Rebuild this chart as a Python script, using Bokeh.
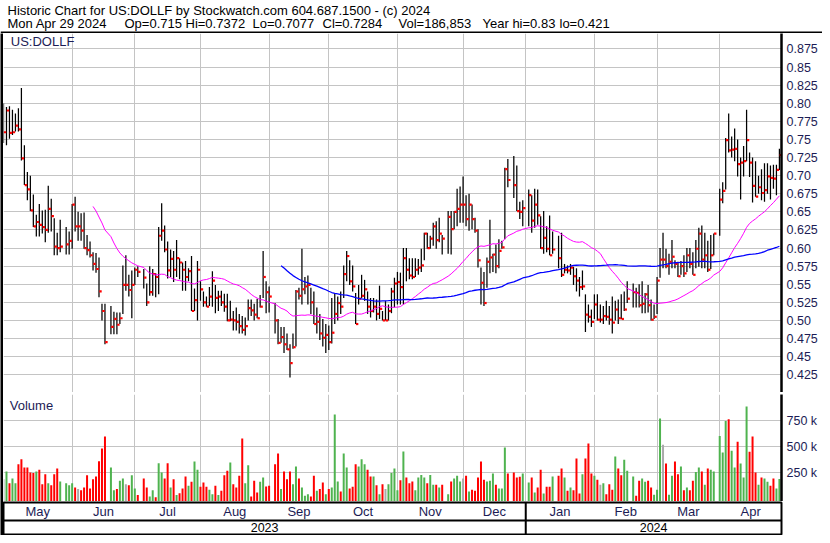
import numpy as np
import pandas as pd
from bokeh.plotting import figure
from bokeh.models import ColumnDataSource, Range1d, LinearAxis, FixedTicker, Grid, Label
from bokeh.transform import dodge
from bokeh.layouts import column, row
from bokeh.embed import file_html
from bokeh.resources import INLINE

# ---------------- data ----------------
symbol = "US:DOLLF"
first_day, last_day = "2023-05-01", "2024-04-29"   # one slot per weekday, None = no trade
N = None
high = [
    0.800, 0.795, 0.796, 0.791, 0.786, 0.793, 0.821, 0.742, 0.705, 0.700,
    0.674, 0.646, 0.661, 0.652, 0.653, 0.686, 0.668, 0.641, 0.621, 0.639,
    N, 0.629, 0.623, 0.661, 0.671, 0.650, 0.648, 0.649, 0.618, 0.609,
    0.594, 0.593, 0.587, 0.523, 0.523, N, 0.520, 0.512, 0.511, 0.511,
    0.576, 0.590, 0.563, 0.569, 0.573, 0.575, N, 0.571, 0.551, 0.575,
    0.571, 0.565, 0.629, 0.662, 0.631, 0.609, 0.598, 0.596, 0.611, 0.586,
    0.580, 0.582, 0.572, 0.589, 0.544, 0.582, 0.554, 0.540, 0.533, 0.546,
    0.568, 0.549, 0.541, 0.541, 0.537, 0.537, 0.527, 0.513, 0.518, 0.509,
    0.506, 0.504, 0.529, 0.529, 0.523, 0.530, 0.535, 0.596, 0.554, 0.547,
    N, 0.524, 0.502, 0.491, 0.491, 0.482, 0.467, 0.482, 0.542, 0.545,
    0.599, 0.560, 0.562, 0.545, 0.540, 0.518, 0.509, 0.502, 0.495, 0.493,
    0.531, 0.538, 0.533, 0.540, 0.576, 0.596, 0.583, 0.576, 0.538, 0.549,
    0.563, 0.556, 0.540, 0.531, 0.531, 0.529, 0.548, 0.513, 0.527, 0.522,
    0.545, 0.559, 0.567, 0.566, 0.600, 0.600, 0.586, 0.586, 0.586, 0.585,
    0.599, 0.621, 0.621, 0.617, 0.635, 0.637, 0.642, 0.618, N, 0.651,
    0.651, 0.651, 0.682, 0.685, 0.699, 0.673, 0.675, 0.660, 0.642, 0.626,
    0.573, 0.567, 0.587, 0.639, 0.592, 0.605, 0.612, 0.610, 0.711, 0.723,
    N, 0.727, 0.714, 0.664, 0.666, N, 0.681, 0.673, 0.682, 0.681,
    0.644, 0.651, 0.630, 0.645, 0.623, N, 0.617, 0.621, 0.578, 0.576,
    0.578, 0.574, 0.572, 0.560, 0.569, 0.536, 0.522, 0.515, 0.536, 0.536,
    0.522, 0.520, 0.527, 0.520, 0.533, 0.527, 0.529, 0.536, 0.540, 0.554,
    N, 0.551, 0.545, 0.550, 0.554, 0.538, 0.549, 0.529, 0.522, 0.560,
    0.600, 0.621, 0.599, 0.592, 0.611, 0.583, 0.581, 0.582, 0.590, 0.600,
    0.600, 0.594, 0.611, 0.628, 0.631, 0.621, 0.610, 0.618, 0.620, N,
    0.682, 0.691, 0.752, 0.786, 0.754, 0.765, 0.750, 0.725, 0.741, 0.791,
    0.732, 0.725, 0.720, 0.700, 0.709, 0.717, 0.717, 0.714, 0.715, 0.715, 0.7372,
]
low = [
    0.745, 0.742, 0.751, 0.756, 0.761, 0.761, 0.721, 0.687, 0.666, 0.651,
    0.629, 0.616, 0.616, 0.620, 0.608, 0.621, 0.623, 0.590, 0.590, 0.594,
    N, 0.591, 0.591, 0.599, 0.623, 0.610, 0.610, 0.599, 0.590, 0.587,
    0.569, 0.566, 0.532, 0.500, 0.467, N, 0.481, 0.481, 0.481, 0.495,
    0.509, 0.541, 0.533, 0.503, 0.549, 0.560, N, 0.544, 0.520, 0.534,
    0.534, 0.532, 0.536, 0.610, 0.594, 0.558, 0.560, 0.553, 0.560, 0.557,
    0.541, 0.541, 0.554, 0.513, 0.513, 0.500, 0.527, 0.519, 0.519, 0.520,
    0.519, 0.510, 0.513, 0.520, 0.512, 0.499, 0.499, 0.486, 0.486, 0.482,
    0.482, 0.479, 0.500, 0.506, 0.500, 0.503, 0.518, 0.531, 0.510, 0.511,
    N, 0.482, 0.467, 0.469, 0.455, 0.459, 0.421, 0.461, 0.464, 0.529,
    0.522, 0.536, 0.522, 0.509, 0.495, 0.482, 0.473, 0.464, 0.455, 0.459,
    0.468, 0.495, 0.500, 0.509, 0.531, 0.554, 0.549, 0.540, 0.495, 0.522,
    0.531, 0.527, 0.509, 0.504, 0.511, 0.500, 0.502, 0.500, 0.500, 0.500,
    0.510, 0.518, 0.522, 0.522, 0.522, 0.554, 0.557, 0.557, 0.560, 0.563,
    0.567, 0.583, 0.599, 0.599, 0.603, 0.599, 0.608, 0.591, N, 0.592,
    0.591, 0.626, 0.630, 0.635, 0.635, 0.630, 0.624, 0.626, 0.621, 0.573,
    0.522, 0.520, 0.545, 0.565, 0.567, 0.565, 0.572, 0.599, 0.612, 0.684,
    N, 0.669, 0.651, 0.640, 0.630, N, 0.630, 0.621, 0.628, 0.632,
    0.599, 0.592, 0.594, 0.590, 0.592, N, 0.572, 0.560, 0.565, 0.565,
    0.563, 0.549, 0.540, 0.533, 0.542, 0.484, 0.497, 0.491, 0.502, 0.500,
    0.497, 0.495, 0.500, 0.494, 0.482, 0.500, 0.495, 0.502, 0.513, 0.524,
    N, 0.518, 0.518, 0.518, 0.510, 0.510, 0.511, 0.500, 0.502, 0.509,
    0.559, 0.572, 0.572, 0.563, 0.572, 0.572, 0.560, 0.563, 0.560, 0.567,
    0.572, 0.563, 0.572, 0.574, 0.572, 0.572, 0.567, 0.571, 0.590, N,
    0.617, 0.662, 0.681, 0.732, 0.725, 0.720, 0.699, 0.667, 0.699, 0.720,
    0.698, 0.663, 0.671, 0.675, 0.666, 0.664, 0.675, 0.667, 0.682, 0.673, 0.7077,
]
close = [
    0.760, 0.790, 0.759, 0.760, 0.769, 0.764, 0.724, 0.687, 0.681, 0.652,
    0.630, 0.636, 0.632, 0.629, 0.625, 0.654, 0.644, 0.602, 0.600, 0.602,
    N, 0.605, 0.610, 0.660, 0.630, 0.630, 0.624, 0.600, 0.597, 0.590,
    0.578, 0.571, 0.540, 0.513, 0.470, N, 0.491, 0.502, 0.494, 0.503,
    0.549, 0.549, 0.542, 0.549, 0.570, 0.567, N, 0.559, 0.525, 0.539,
    0.564, 0.560, 0.617, 0.624, 0.598, 0.569, 0.585, 0.570, 0.586, 0.580,
    0.570, 0.560, 0.568, 0.513, 0.528, 0.570, 0.543, 0.525, 0.519, 0.533,
    0.555, 0.531, 0.533, 0.525, 0.519, 0.500, 0.501, 0.500, 0.498, 0.492,
    0.487, 0.492, 0.517, 0.514, 0.508, 0.503, 0.519, 0.560, 0.539, 0.533,
    N, 0.500, 0.469, 0.477, 0.467, 0.460, 0.441, 0.463, 0.540, 0.534,
    0.543, 0.547, 0.549, 0.525, 0.495, 0.498, 0.482, 0.476, 0.480, 0.470,
    0.483, 0.509, 0.524, 0.519, 0.564, 0.589, 0.554, 0.547, 0.495, 0.530,
    0.534, 0.543, 0.519, 0.513, 0.519, 0.509, 0.516, 0.500, 0.500, 0.513,
    0.540, 0.551, 0.553, 0.546, 0.586, 0.570, 0.562, 0.560, 0.570, 0.573,
    0.576, 0.620, 0.600, 0.613, 0.630, 0.611, 0.620, 0.613, N, 0.643,
    0.626, 0.650, 0.654, 0.660, 0.660, 0.640, 0.660, 0.640, 0.624, 0.583,
    0.552, 0.524, 0.581, 0.587, 0.591, 0.575, 0.596, 0.601, 0.709, 0.694,
    N, 0.687, 0.651, 0.650, 0.655, N, 0.673, 0.638, 0.660, 0.645,
    0.600, 0.614, 0.599, 0.590, 0.598, N, 0.586, 0.563, 0.570, 0.569,
    0.573, 0.561, 0.555, 0.546, 0.547, 0.508, 0.505, 0.498, 0.522, 0.501,
    0.501, 0.506, 0.505, 0.501, 0.497, 0.515, 0.503, 0.502, 0.515, 0.530,
    N, 0.539, 0.538, 0.521, 0.523, 0.536, 0.521, 0.501, 0.505, 0.555,
    0.584, 0.584, 0.575, 0.581, 0.588, 0.578, 0.561, 0.575, 0.565, 0.590,
    0.578, 0.563, 0.599, 0.620, 0.584, 0.590, 0.570, 0.590, 0.620, N,
    0.667, 0.679, 0.749, 0.735, 0.736, 0.737, 0.716, 0.718, 0.720, 0.749,
    0.718, 0.686, 0.671, 0.684, 0.676, 0.680, 0.699, 0.697, 0.696, 0.708, 0.7284,
]
volume = [
    185000, 260000, 147000, 192000, 147000, 331000, 379000, 298000, 298000, 250000,
    244000, 260000, 276000, 137000, 234000, 147000, 127000, 234000, 289000, 163000,
    N, 147000, 127000, 147000, 105000, 89000, 79000, 105000, 224000, 95000,
    185000, 211000, 360000, 482000, 598000, N, 298000, 79000, 89000, 169000,
    192000, 137000, 127000, 224000, 95000, 31000, N, 192000, 105000, 18000,
    79000, 10000, 340000, 250000, 192000, 340000, 105000, 185000, 31000, 50000,
    95000, 211000, 121000, 160000, 356000, 276000, 111000, 153000, 111000, 82000,
    40000, 121000, 31000, 73000, 224000, 266000, 347000, 137000, 105000, 218000,
    579000, 147000, 321000, 18000, 169000, 56000, 160000, 202000, 115000, 121000,
    N, 331000, 434000, 89000, 260000, 185000, 260000, 137000, 308000, 192000,
    105000, 24000, 40000, 18000, 218000, 73000, 89000, 153000, 40000, 89000,
    105000, 811000, 163000, 66000, 434000, 298000, 95000, 111000, 331000, 308000,
    379000, 331000, 276000, 211000, 211000, 127000, 40000, 137000, 89000, 137000,
    244000, 289000, 79000, 176000, 453000, 202000, 147000, 163000, 79000, 202000,
    227000, 202000, 147000, 227000, 131000, 131000, 105000, 131000, N, 40000,
    163000, 192000, 218000, 163000, 192000, 218000, 66000, 82000, 73000, 202000,
    356000, 179000, 163000, 169000, 240000, 131000, 95000, 95000, 492000, 240000,
    N, 250000, 202000, 208000, 240000, N, 153000, 202000, 56000, 105000,
    276000, 47000, 111000, 111000, 211000, N, 218000, 289000, 202000, 73000,
    105000, 79000, 385000, 47000, 234000, 385000, 531000, 240000, 218000, 179000,
    131000, 147000, 40000, 137000, 82000, 405000, 289000, 224000, 373000, 266000,
    N, 211000, 24000, 169000, 192000, 160000, 169000, 105000, 34000, 82000,
    773000, 518000, 337000, 34000, 218000, 356000, 234000, 308000, 79000, 105000,
    79000, 170000, 256000, 298000, 260000, 131000, 289000, 276000, 260000, N,
    605000, 444000, 750000, 766000, 460000, 298000, 547000, 337000, 202000, 889000,
    450000, 598000, 250000, 131000, 202000, 192000, 160000, 121000, 192000, 95000, 186853,
]
last_open = 0.715
year_hi, year_lo = 0.83, 0.421
ma_windows = [30, 90]

price_ticks = [0.425, 0.45, 0.475, 0.5, 0.525, 0.55, 0.575, 0.6, 0.625, 0.65,
               0.675, 0.7, 0.725, 0.75, 0.775, 0.8, 0.825, 0.85, 0.875]
price_tick_labels = ["0.425", "0.45", "0.475", "0.50", "0.525", "0.55", "0.575", "0.60", "0.625", "0.65",
                     "0.675", "0.70", "0.725", "0.75", "0.775", "0.80", "0.825", "0.85", "0.875"]
vol_ticks = [250000, 500000, 750000]
vol_tick_labels = ["250 k", "500 k", "750 k"]

# ---------------- styling ----------------
FONT = "Liberation Sans"
NAVY = "#1c1c55"
GRID = "#c4c4c4"
GREEN, RED, GREY = "#4fb34f", "#ff0000", "#aaaaaa"
W = 822          # page content width
FW = 819         # width right of left border strip
AXW = 41         # right axis column
PRICE_RANGE = (0.4004, 0.8964)
VOL_RANGE = (-31000, 1006000)

days = pd.bdate_range(first_day, last_day)
df = pd.DataFrame({"x": np.arange(len(days)), "date": days,
                   "high": pd.to_numeric(pd.Series(high), errors="coerce"),
                   "low": pd.to_numeric(pd.Series(low), errors="coerce"),
                   "close": pd.to_numeric(pd.Series(close), errors="coerce"),
                   "volume": pd.to_numeric(pd.Series(volume), errors="coerce")})
tr = df[df["close"].notna()].copy()
d = tr["close"].diff()
tr["vcolor"] = np.select([d > 1e-9, d < -1e-9], [GREEN, RED], default=GREY)
tr["ma30"] = tr["close"].rolling(ma_windows[0]).mean()
tr["ma90"] = tr["close"].rolling(ma_windows[1]).mean()
src = ColumnDataSource(tr)

xr = Range1d(0, 260.7)
month_starts = pd.date_range("2023-06-01", "2024-04-01", freq="MS")
month_lines = [float(v) for v in (np.searchsorted(days.values, month_starts.values, side="right") - 1)]
edges = [xr.start] + month_lines + [xr.end]
month_centers = [(a + b) / 2 for a, b in zip(edges[:-1], edges[1:])]
month_names = [m.strftime("%b") for m in pd.date_range("2023-05-01", "2024-04-01", freq="MS")]
year_line = float(np.searchsorted(days.values, np.datetime64("2024-01-01"), side="right") - 1)
year_centers = [(xr.start + year_line) / 2, (year_line + xr.end) / 2]
year_names = ["2023", "2024"]


def base_fig(w, h, **kw):
    f = figure(width=w, height=h, toolbar_location=None, output_backend="svg",
               x_axis_type=None, y_axis_type=None, title=None, **kw)
    f.min_border_left = 0
    f.min_border_right = 0
    f.min_border_top = 0
    f.min_border_bottom = 0
    f.outline_line_color = None
    return f


def black_fig(w, h):
    f = base_fig(w, h)
    f.background_fill_color = "black"
    f.border_fill_color = "black"
    return f


def put_text(fig, x, y, text, color="black", align="left", size="13px"):
    fig.add_layout(Label(x=x, y=y, text=text, text_font=FONT, text_font_size=size,
                         text_baseline="alphabetic", text_align=align, text_color=color))


# ---------------- header ----------------
hdr = base_fig(W, 33, x_range=Range1d(0, W), y_range=Range1d(33, 0))
line1 = f"Historic Chart for {symbol} by Stockwatch.com 604.687.1500 - (c) {days[-1].year}"
fields = [days[-1].strftime("%a %b %d %Y"), f"Op={last_open}", f"Hi={high[-1]}", f"Lo={low[-1]}",
          f"Cl={close[-1]}", f"Vol={volume[-1]:,}", f"Year hi={year_hi}", f"lo={year_lo}"]
field_x = [7, 124, 185, 252, 322, 398, 482, 559]
put_text(hdr, 7, 9.5, line1)
for fx, ft in zip(field_x, fields):
    put_text(hdr, fx, 23.0, ft)
hdr.quad(left=[0], right=[W], top=[31], bottom=[33], fill_color="black", line_color=None)


def style_axis(ax):
    ax.axis_line_color = "black"
    ax.axis_line_width = 2.5
    ax.major_tick_line_color = None
    ax.minor_tick_line_color = None
    ax.major_tick_out = 0
    ax.major_tick_in = 0
    ax.major_label_standoff = 5
    ax.major_label_text_font = FONT
    ax.major_label_text_font_size = "12.5px"
    ax.major_label_text_color = NAVY


# ---------------- price panel ----------------
price = base_fig(FW, 359, x_range=xr, y_range=Range1d(*PRICE_RANGE))
price.min_border_right = AXW
pax = LinearAxis(ticker=FixedTicker(ticks=price_ticks),
                 major_label_overrides=dict(zip(price_ticks, price_tick_labels)))
style_axis(pax)
price.add_layout(pax, "right")
price.add_layout(Grid(dimension=0, ticker=FixedTicker(ticks=month_lines), grid_line_color=GRID, grid_line_width=1), "center")
price.add_layout(Grid(dimension=1, ticker=FixedTicker(ticks=price_ticks), grid_line_color=GRID, grid_line_width=1), "center")
price.segment(x0="x", y0="low", x1="x", y1="high", source=src, line_color="black", line_width=1.25)
price.rect(x=dodge("x", 0.5, range=xr), y="close", width=2.4, height=2.2, width_units="screen",
           height_units="screen", source=src, fill_color="red", line_color=None)
price.line("x", "ma30", source=src, line_color="#ff00ff", line_width=1)
price.line("x", "ma90", source=src, line_color="#0000ff", line_width=1.3)
put_text(price, 2.45, 0.8849, symbol, color=NAVY)

sep = black_fig(FW, 2)

# ---------------- volume panel ----------------
vol = base_fig(FW, 107, x_range=xr, y_range=Range1d(*VOL_RANGE))
vol.min_border_right = AXW
vax = LinearAxis(ticker=FixedTicker(ticks=vol_ticks),
                 major_label_overrides=dict(zip(vol_ticks, vol_tick_labels)))
style_axis(vax)
vol.add_layout(vax, "right")
vol.add_layout(Grid(dimension=0, ticker=FixedTicker(ticks=month_lines), grid_line_color=GRID, grid_line_width=1), "center")
vol.add_layout(Grid(dimension=1, ticker=FixedTicker(ticks=vol_ticks), grid_line_color=GRID, grid_line_width=1), "center")
vol.vbar(x="x", top="volume", bottom=VOL_RANGE[0], width=0.67, source=src, fill_color="vcolor", line_color=None)
put_text(vol, 2.1, 900000, "Volume", color=NAVY)

# ---------------- month / year bands ----------------
bands = base_fig(FW, 34, x_range=xr, y_range=Range1d(32, 0))
bands.min_border_right = AXW
bands.min_border_top = 1
bands.min_border_bottom = 1
bands.outline_line_color = "black"
bands.outline_line_width = 2
bands.segment(x0=[xr.start], x1=[xr.end], y0=[18], y1=[18], line_color="black", line_width=2)
bands.segment(x0=[year_line], x1=[year_line], y0=[0], y1=[32], line_color="black", line_width=2)
for mx, mn in zip(month_centers, month_names):
    put_text(bands, mx, 9.2, mn, color=NAVY, align="center")
for yx, yn in zip(year_centers, year_names):
    put_text(bands, yx, 25.0, yn, color="black", align="center", size="12.5px")

strip = black_fig(3, 502)

layout = column(hdr, row(strip, column(price, sep, vol, bands)))
open("out.html", "w").write(file_html(layout, INLINE))
